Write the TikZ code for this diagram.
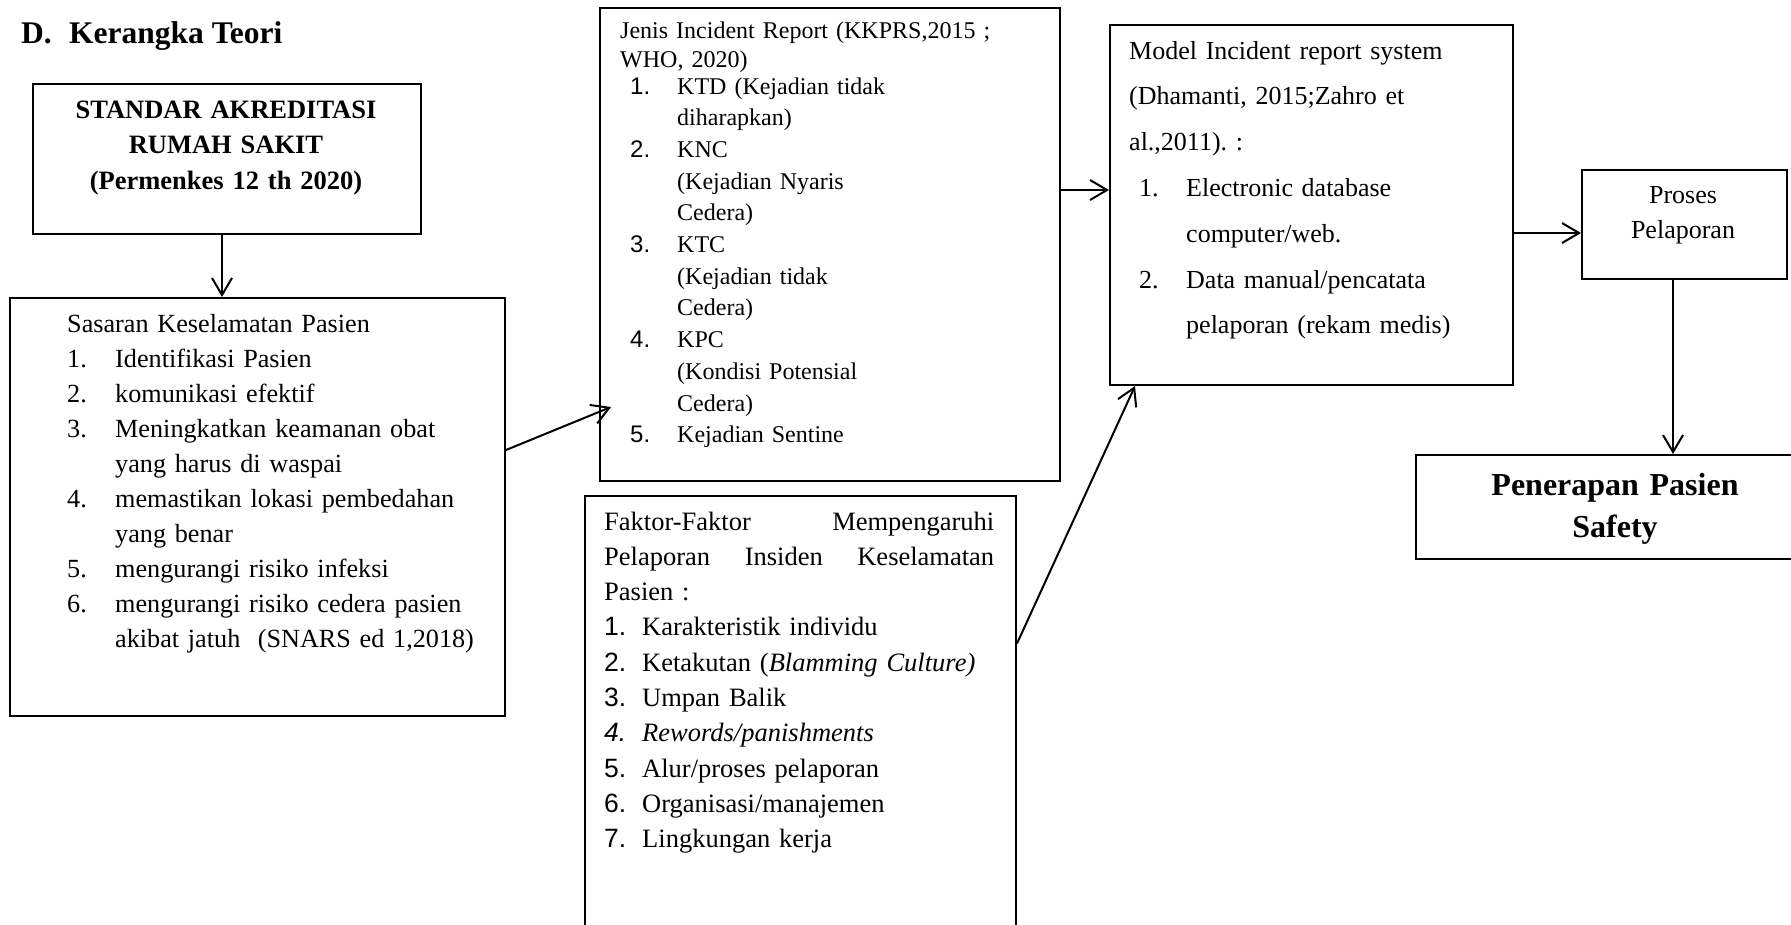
\documentclass[tikz,border=0pt]{standalone}
\usepackage{fontspec}
\setmainfont{Liberation Serif}
\newfontfamily\arialf{Liberation Sans}
\usetikzlibrary{arrows.meta,calc}
\frenchspacing
\begin{document}
\begin{tikzpicture}[x=1pt,y=-1pt,
  box/.style={draw, line width=2pt, inner sep=0pt, anchor=north west},
  txt/.style={inner sep=0pt, anchor=base west, align=left},
  ctxt/.style={inner sep=0pt, anchor=base, align=center},
  arr/.style={line width=2pt, -{Straight Barb[length=17pt,width=20pt]}},
  body/.style={font=\fontsize{26.2}{35.1}\selectfont}
]
\useasboundingbox (0,0) rectangle (1791,924);

% title
\node[txt, font=\bfseries\fontsize{31.5}{36}\selectfont] (title) at (21,43) {\makebox[48pt][l]{D.}Kerangka Teori};

% boxes
\node[box, minimum width=388pt, minimum height=150pt] (std) at (32,83) {};
\node[box, minimum width=495pt, minimum height=418pt] (sas) at (9,297) {};
\node[box, minimum width=460pt, minimum height=473pt] (jenis) at (599,7) {};
\node[box, minimum width=431pt, minimum height=445pt] (faktor) at (584,495) {};
\node[box, minimum width=403pt, minimum height=360pt] (model) at (1109,24) {};
\node[box, minimum width=205pt, minimum height=109pt] (proses) at (1581,169) {};
\node[box, minimum width=400pt, minimum height=104pt] (pen) at (1415,454) {};

% texts
\node[ctxt, text width=380pt, font=\bfseries\fontsize{26.5}{35.5}\selectfont] (stdtext) at (226,118)
  {STANDAR AKREDITASI\\RUMAH SAKIT\\(Permenkes 12 th 2020)};

\node[txt, text width=435pt, body] (sastext) at (67,332) {Sasaran Keselamatan Pasien\\
\makebox[48pt][l]{1.}Identifikasi Pasien\\
\makebox[48pt][l]{2.}komunikasi efektif\\
\makebox[48pt][l]{3.}Meningkatkan keamanan obat\\
\hspace*{48pt}yang harus di waspai\\
\makebox[48pt][l]{4.}memastikan lokasi pembedahan\\
\hspace*{48pt}yang benar\\
\makebox[48pt][l]{5.}mengurangi risiko infeksi\\
\makebox[48pt][l]{6.}mengurangi risiko cedera pasien\\
\hspace*{48pt}akibat jatuh\ \ (SNARS ed 1,2018)};

\node[txt, text width=430pt, font=\fontsize{24}{29}\selectfont] (jenishead) at (620,38)
  {Jenis Incident Report (KKPRS,2015 ;\\WHO, 2020)};
\node[txt, text width=420pt, font=\fontsize{24}{31.7}\selectfont] (jenislist) at (630,94) {%
\makebox[47pt][l]{\arialf 1.}KTD (Kejadian tidak\\
\hspace*{47pt}diharapkan)\\
\makebox[47pt][l]{\arialf 2.}KNC\\
\hspace*{47pt}(Kejadian Nyaris\\
\hspace*{47pt}Cedera)\\
\makebox[47pt][l]{\arialf 3.}KTC\\
\hspace*{47pt}(Kejadian tidak\\
\hspace*{47pt}Cedera)\\
\makebox[47pt][l]{\arialf 4.}KPC\\
\hspace*{47pt}(Kondisi Potensial\\
\hspace*{47pt}Cedera)\\
\makebox[47pt][l]{\arialf 5.}Kejadian Sentine};

\node[txt, text width=400pt, font=\fontsize{26.5}{35.3}\selectfont] (faktortext) at (604,530) {%
\makebox[390pt][l]{Faktor-Faktor\hfill Mempengaruhi}\\
\makebox[390pt][l]{Pelaporan\hfill Insiden\hfill Keselamatan}\\
Pasien :\\
\makebox[38pt][l]{\arialf 1.}Karakteristik individu\\
\makebox[38pt][l]{\arialf 2.}Ketakutan (\textit{Blamming Culture)}\\
\makebox[38pt][l]{\arialf 3.}Umpan Balik\\
\makebox[38pt][l]{\arialf\itshape 4.}\textit{Rewords/panishments}\\
\makebox[38pt][l]{\arialf 5.}Alur/proses pelaporan\\
\makebox[38pt][l]{\arialf 6.}Organisasi/manajemen\\
\makebox[38pt][l]{\arialf 7.}Lingkungan kerja};

\node[txt, text width=380pt, font=\fontsize{26}{45.8}\selectfont] (modeltext) at (1129,59) {%
Model Incident report system\\
(Dhamanti, 2015;Zahro et\\
al.,2011). :\\
\hspace*{10pt}\makebox[47pt][l]{1.}Electronic database\\
\hspace*{57pt}computer/web.\\
\hspace*{10pt}\makebox[47pt][l]{2.}Data manual/pencatata\\
\hspace*{57pt}pelaporan (rekam medis)};

\node[ctxt, text width=200pt, font=\fontsize{26}{35}\selectfont] (prosestext) at (1683,203) {Proses\\Pelaporan};

\node[ctxt, text width=400pt, font=\bfseries\fontsize{32}{42}\selectfont] (pentext) at (1615,495) {Penerapan Pasien\\Safety};

% connectors
\coordinate (t1) at (611,407);
\draw[arr] ([xshift=-5pt]std.south) -- ([xshift=-5pt]std.south |- sas.north);
\draw[arr] ([yshift=57pt]sas.east) -- (t1);
\draw[arr] ([yshift=54.5pt]jenis.east) -- ([yshift=54.5pt]jenis.east -| model.west);
\draw[arr] ([yshift=-28pt]model.east) -- ([yshift=-28pt]model.east -| proses.west);
\draw[arr] ([xshift=-11.5pt]proses.south) -- ([xshift=-11.5pt]proses.south |- pen.north);
\draw[arr] ([yshift=75pt]faktor.east) -- ([xshift=26pt]model.south west);
\end{tikzpicture}
\end{document}
